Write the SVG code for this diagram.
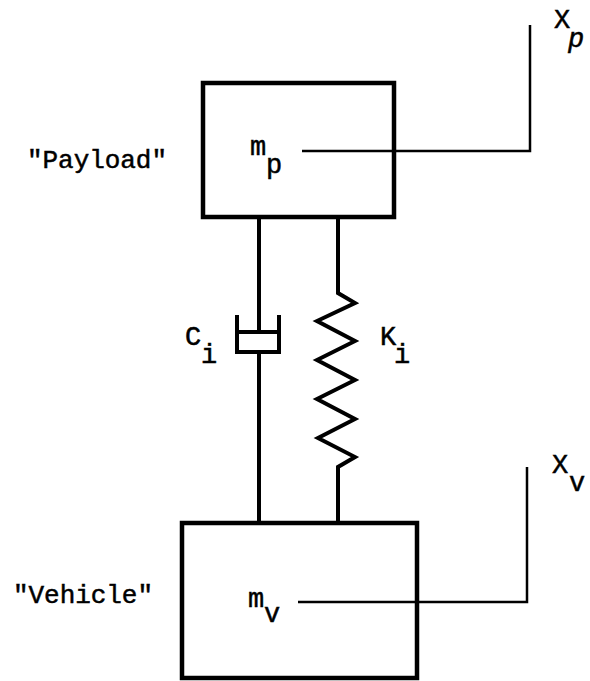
<svg xmlns="http://www.w3.org/2000/svg" width="590" height="681" viewBox="0 0 590 681">
<style>
.box{fill:none;stroke:#000;stroke-width:4.5}
.rod{fill:none;stroke:#000;stroke-width:4;stroke-linejoin:miter}
.disp{fill:none;stroke:#000;stroke-width:2.5}
text{font-family:"Liberation Mono","DejaVu Sans Mono",monospace;fill:#000;stroke:#000;stroke-width:0.5}
.lbl{font-size:26px}
.sym{font-size:27px}
</style>
<rect width="590" height="681" fill="#fff"/>
<g id="payload">
<rect class="box" x="203" y="83" width="191" height="134"/>
<text class="sym" x="250" y="155">m</text>
<text class="sym" x="266" y="173">p</text>
<text class="lbl" x="27" y="168" textLength="140">"Payload"</text>
</g>
<g id="vehicle">
<rect class="box" x="182" y="523" width="235" height="155"/>
<text class="sym" x="248" y="607">m</text>
<text class="sym" x="264" y="622">v</text>
<text class="lbl" x="13" y="603" textLength="140">"Vehicle"</text>
</g>
<g id="damper">
<path class="rod" d="M237,315 V352 H279 V315 M237,332 H279"/>
<text class="sym" x="185" y="345">C</text>
<text class="sym" x="201" y="363">i</text>
</g>
<g id="spring">
<text class="sym" x="380" y="345">K</text>
<text class="sym" x="394" y="363">i</text>
</g>
<g id="xp">
<text class="sym" x="554" y="28">X</text>
<text class="sym" x="568" y="47" font-style="italic">p</text>
</g>
<g id="xv">
<text class="sym" x="552" y="473">X</text>
<text class="sym" x="569" y="491">v</text>
</g>
<g id="connectors">
<path class="rod" d="M259,217 V332 M259,352 V523"/>
<path class="rod" d="M338,217 V293 L355,303 L317,321 L355,341 L317,360 L355,380 L317,399 L355,419 L318,438 L355,457 L338,467 V523"/>
<path class="disp" d="M302,151 H530 V25"/>
<path class="disp" d="M298,602 H527 V467"/>
</g>
</svg>
